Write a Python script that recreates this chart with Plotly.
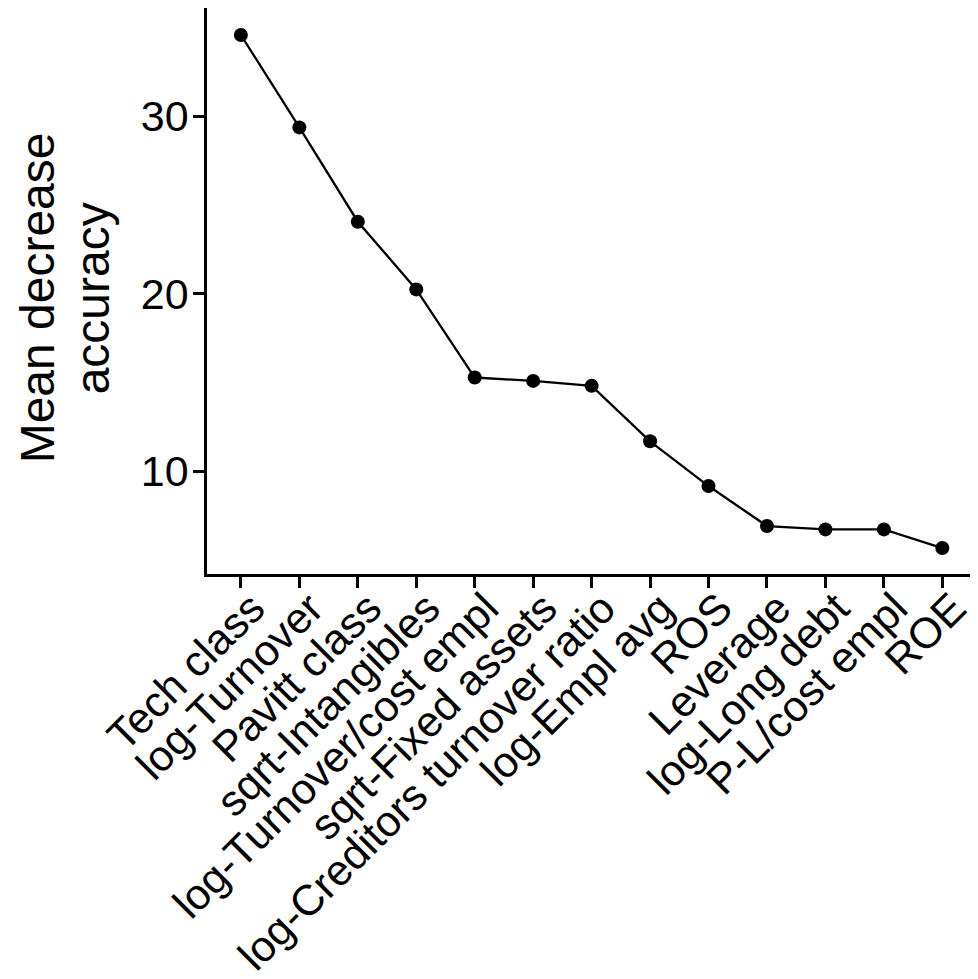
import plotly.graph_objects as go

categories = ["Tech class", "log-Turnover", "Pavitt class", "sqrt-Intangibles",
              "log-Turnover/cost empl", "sqrt-Fixed assets", "log-Creditors turnover ratio",
              "log-Empl avg", "ROS", "Leverage", "log-Long debt", "P-L/cost empl", "ROE"]
values = [34.56, 29.36, 24.05, 20.24, 15.28, 15.09, 14.81, 11.69, 9.17, 6.92, 6.73, 6.73, 5.68]
y_ticks = [10, 20, 30]
y_title_lines = ["Mean decrease", "accuracy"]

FONT = "Liberation Sans, Arial, sans-serif"

fig = go.Figure()
fig.add_trace(go.Scatter(
    x=list(range(len(categories))), y=values, mode="lines+markers",
    line=dict(color="black", width=2.3),
    marker=dict(color="black", size=14),
    showlegend=False, hoverinfo="skip",
))

fig.update_layout(
    width=970, height=971,
    margin=dict(l=199, r=0, t=0, b=405),
    paper_bgcolor="white", plot_bgcolor="white",
    font=dict(family=FONT, color="black"),
    xaxis=dict(
        range=[-0.58, 12.61], automargin=False,
        tickmode="array", tickvals=list(range(len(categories))), ticktext=categories,
        tickangle=-45, tickfont=dict(size=43, family=FONT, color="black"),
        ticklabelstandoff=-22, ticklabelshift=11,
        showline=True, linecolor="black", linewidth=2.5,
        ticks="outside", ticklen=11, tickwidth=2.5, tickcolor="black",
        showgrid=False, zeroline=False,
    ),
    yaxis=dict(
        range=[4.22, 36.08], automargin=False,
        tickmode="array", tickvals=y_ticks, ticktext=[str(v) for v in y_ticks],
        tickfont=dict(size=43, family=FONT, color="black"),
        ticklabelstandoff=-4,
        showline=True, linecolor="black", linewidth=2.5,
        ticks="outside", ticklen=11, tickwidth=2.5, tickcolor="black",
        showgrid=False, zeroline=False,
    ),
)

for line, shift in zip(y_title_lines, [-170, -115]):
    fig.add_annotation(
        text=line, xref="paper", yref="paper", x=0, y=0.487,
        xanchor="center", yanchor="middle", xshift=shift,
        textangle=-90, showarrow=False,
        font=dict(size=48, family=FONT, color="black"),
    )

fig.write_html("out.html")
